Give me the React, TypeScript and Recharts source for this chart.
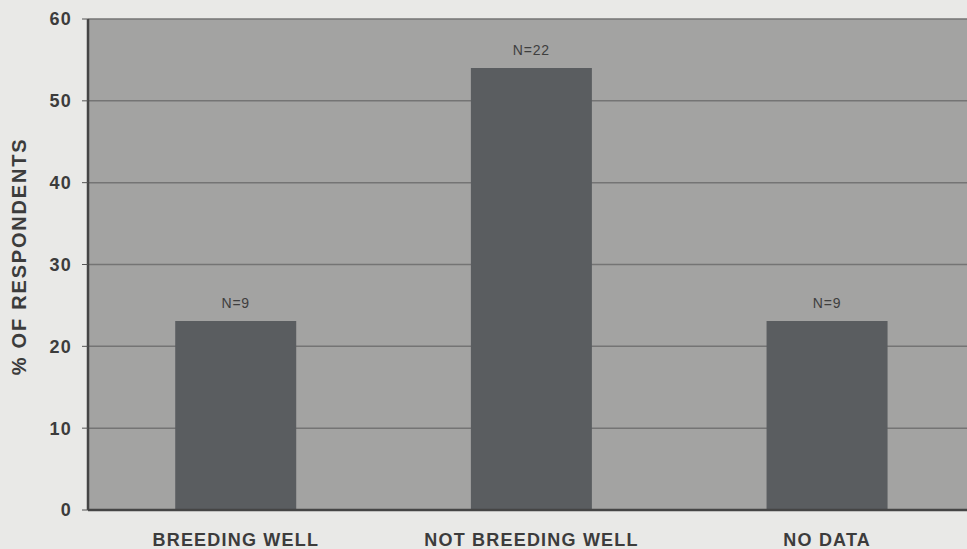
import { BarChart, Bar, XAxis, YAxis, CartesianGrid, LabelList, Label } from "recharts";

const categories = ["BREEDING WELL", "NOT BREEDING WELL", "NO DATA"];
const percents = [23.1, 54, 23.1];
const nLabels = ["N=9", "N=22", "N=9"];
const yTicks = [0, 10, 20, 30, 40, 50, 60];

const data = categories.map((name, i) => ({
  name,
  pct: percents[i],
  n: nLabels[i],
}));

const FONT = "'Liberation Sans', Arial, sans-serif";

function YTitle(props: any) {
  const vb = props.viewBox || { x: 0, y: 0, height: 0 };
  const cx = vb.x + 19;
  const cy = vb.y + vb.height / 2 - 8;
  return (
    <text
      x={cx}
      y={cy}
      transform={`rotate(-90, ${cx}, ${cy})`}
      textAnchor="middle"
      dominantBaseline="central"
      fill="#3c3c3c"
      fontFamily={FONT}
      fontWeight={700}
      fontSize={20}
      letterSpacing={1.8}
    >
      % OF RESPONDENTS
    </text>
  );
}

export default function App() {
  return (
    <div
      style={{
        position: "absolute",
        left: 0,
        top: 0,
        width: 967,
        height: 549,
        overflow: "hidden",
        background: "#e9e9e7",
      }}
    >
      <BarChart
        width={990}
        height={549}
        data={data}
        margin={{ top: 19, right: 15, left: 0, bottom: 0 }}
        barCategoryGap="29.5%"
      >
        <CartesianGrid
          vertical={false}
          fill="#a3a3a2"
          fillOpacity={1}
          stroke="#747474"
          strokeWidth={1.5}
        />
        <XAxis
          dataKey="name"
          height={39}
          tickLine={false}
          tickMargin={17}
          axisLine={{ stroke: "#454545", strokeWidth: 2.5 }}
          tick={{
            fill: "#3c3c3c",
            fontSize: 18,
            fontWeight: 700,
            fontFamily: FONT,
            letterSpacing: 1.2,
          }}
        />
        <YAxis
          width={88}
          domain={[0, 60]}
          ticks={yTicks}
          interval={0}
          tickSize={6}
          tickMargin={10}
          tickLine={{ stroke: "#555" }}
          axisLine={{ stroke: "#454545", strokeWidth: 2.5 }}
          tick={{
            fill: "#3c3c3c",
            fontSize: 18,
            fontWeight: 700,
            fontFamily: FONT,
            letterSpacing: 1.2,
          }}
        >
          <Label content={<YTitle />} />
        </YAxis>
        <Bar dataKey="pct" fill="#5a5d60" isAnimationActive={false}>
          <LabelList
            dataKey="n"
            position="top"
            offset={13}
            fill="#3e3e3e"
            fontSize={14}
            fontFamily={FONT}
            letterSpacing={0.8}
          />
        </Bar>
      </BarChart>
    </div>
  );
}
